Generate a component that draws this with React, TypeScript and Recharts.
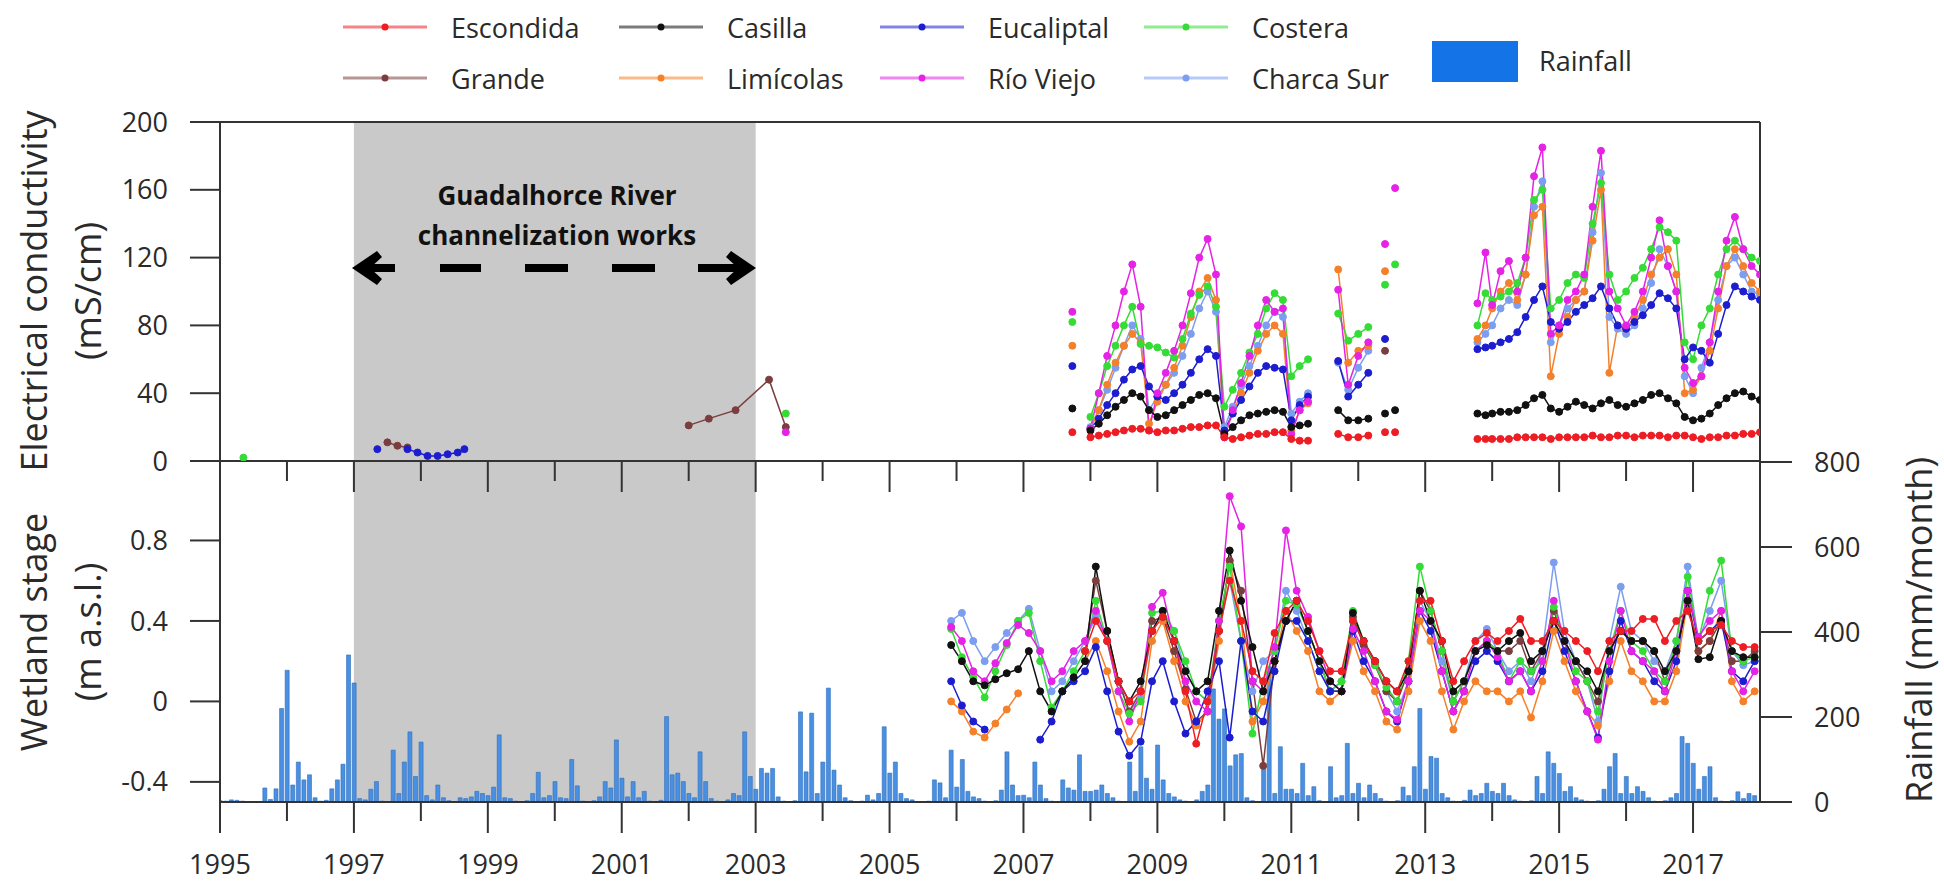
import React from "react";
import {
  Bar,
  ComposedChart,
  Line,
  ReferenceArea,
  ReferenceLine,
  XAxis,
  YAxis,
} from "recharts";

const FONT = "'Open Sans', 'DejaVu Sans', sans-serif";
const W = 1944;
const H = 883;
const AXIS = "#333333";
const TEXT = "#2a2a2a";
const GREY = "#c9c9c9";
const _ = null;

const YEARS = [
  1995, 1996, 1997, 1998, 1999, 2000, 2001, 2002, 2003, 2004, 2005, 2006,
  2007, 2008, 2009, 2010, 2011, 2012, 2013, 2014, 2015, 2016, 2017,
];
const EC_TICKS = [0, 40, 80, 120, 160, 200];
const STAGE_TICKS = [-0.4, 0, 0.4, 0.8];
const RAIN_TICKS = [0, 200, 400, 600, 800];

// monthly rainfall (mm/month), Jan 1995 .. Dec 2017, one row per year
const RAINFALL = [
  3, 2, 5, 4, 2, 0, 0, 1, 33, 6, 31, 220,
  310, 40, 94, 52, 64, 10, 2, 4, 31, 52, 89, 346,
  280, 8, 5, 30, 48, 2, 0, 122, 20, 94, 165, 60,
  141, 15, 5, 40, 10, 3, 0, 10, 8, 12, 25, 20,
  15, 35, 158, 10, 8, 2, 0, 3, 20, 70, 10, 15,
  48, 10, 8, 100, 38, 2, 0, 3, 12, 48, 33, 146,
  56, 12, 48, 10, 25, 2, 0, 4, 201, 64, 68, 48,
  20, 10, 118, 48, 8, 2, 0, 5, 20, 15, 165, 60,
  30, 79, 68, 79, 12, 2, 0, 3, 212, 71, 209, 20,
  94, 268, 75, 40, 10, 3, 0, 2, 16, 5, 20, 177,
  68, 94, 20, 8, 5, 1, 0, 2, 52, 45, 10, 122,
  35, 100, 25, 12, 8, 2, 0, 3, 28, 118, 40, 15,
  16, 10, 94, 40, 8, 2, 0, 52, 33, 28, 111, 25,
  25, 28, 40, 20, 10, 2, 0, 94, 25, 130, 56, 30,
  134, 52, 20, 12, 5, 2, 0, 5, 25, 40, 266, 195,
  219, 85, 111, 114, 10, 3, 0, 91, 318, 20, 130, 30,
  30, 20, 91, 15, 36, 3, 0, 83, 10, 15, 138, 20,
  44, 10, 40, 20, 8, 2, 0, 3, 35, 15, 83, 220,
  30, 107, 103, 20, 10, 2, 0, 4, 28, 15, 20, 44,
  25, 20, 44, 15, 5, 2, 0, 3, 60, 20, 118, 91,
  67, 25, 36, 10, 5, 2, 0, 3, 30, 83, 114, 20,
  60, 20, 36, 25, 10, 2, 0, 3, 10, 20, 154, 138,
  91, 30, 60, 83, 10, 2, 0, 3, 24, 8, 20, 15,
];

// electrical conductivity sampling dates (null rows break the lines)
const EC_T = [
  1995.35,
  1997.35, 1997.5, 1997.65, 1997.8, 1997.95, 1998.1, 1998.25, 1998.4, 1998.55, 1998.65,
  2000.0,
  2002.0, 2002.3, 2002.7, 2003.2, 2003.45,
  2005.5,
  2007.73,
  2007.9,
  2008.0, 2008.125, 2008.25, 2008.375, 2008.5, 2008.625, 2008.75, 2008.875,
  2009.0, 2009.125, 2009.25, 2009.375, 2009.5, 2009.625, 2009.75, 2009.875,
  2010.0, 2010.125, 2010.25, 2010.375, 2010.5, 2010.625, 2010.75, 2010.875,
  2011.0, 2011.125, 2011.25,
  2011.5,
  2011.7, 2011.85, 2012.0, 2012.15,
  2012.3,
  2012.4,
  2012.47,
  2012.55,
  2013.2,
  2013.78, 2013.9, 2014.0,
  2014.125, 2014.25, 2014.375, 2014.5, 2014.625, 2014.75, 2014.875,
  2015.0, 2015.125, 2015.25, 2015.375, 2015.5, 2015.625, 2015.75, 2015.875,
  2016.0, 2016.125, 2016.25, 2016.375, 2016.5, 2016.625, 2016.75, 2016.875,
  2017.0, 2017.125, 2017.25, 2017.375, 2017.5, 2017.625, 2017.75, 2017.875,
  2018.0,
];

const EC_ESCONDIDA = [
  _, _, _, _, _, _, _, _, _, _, _, _, _, _, _, _, _, _, 17, _,
  14, 15, 16, 17, 18, 19, 19, 18,
  17, 18, 18, 19, 20, 20, 21, 21,
  14, 13, 14, 15, 16, 16, 17, 17,
  13, 12, 12,
  _, 16, 14, 14, 15, _, 17, _, 17, _,
  13, 13, 13,
  13, 13, 14, 14, 14, 14, 13,
  14, 14, 14, 14, 15, 14, 14, 15,
  15, 14, 15, 15, 15, 14, 15, 15,
  14, 13, 14, 14, 15, 15, 16, 16,
  17,
];
const EC_CASILLA = [
  _, _, _, _, _, _, _, _, _, _, _, _, _, _, _, _, _, _, 31, _,
  18, 22, 27, 32, 36, 40, 38, 30,
  26, 27, 30, 33, 36, 39, 40, 37,
  16, 20, 24, 27, 28, 29, 30, 29,
  20, 21, 22,
  _, 30, 24, 24, 25, _, 28, _, 30, _,
  28, 27, 28,
  29, 29, 30, 33, 37, 39, 31,
  29, 32, 35, 33, 31, 34, 36, 33,
  32, 34, 36, 39, 40, 37, 34, 26,
  24, 25, 28, 33, 37, 40, 41, 38,
  36,
];
const EC_EUCALIPTAL = [
  _, 7, _, _, 7, 5, 3, 3, 4, 5, 7, _, _, _, _, _, _, _, 56, _,
  19, 25, 33, 40, 48, 54, 56, 44,
  38, 36, 40, 45, 52, 60, 66, 62,
  18, 28, 36, 44, 52, 56, 55, 54,
  24, 33, 38,
  _, 59, 38, 45, 52, _, 72, _, _, _,
  66, 67, 68,
  70, 72, 76, 85, 95, 103, 82,
  78, 82, 88, 92, 96, 103, 90, 80,
  78, 82, 86, 92, 99, 96, 90, 60,
  67, 65, 58, 75, 92, 103, 100, 97,
  95,
];
const EC_RIO_VIEJO = [
  _, _, _, _, _, _, _, _, _, _, _, _, _, _, _, _, 17, _, 88, _,
  19, 40, 62, 80, 100, 116, 91, 18,
  40, 52, 65, 80, 99, 120, 131, 110,
  14, 30, 46, 62, 80, 95, 88, 90,
  16, 30, 35,
  _, 101, 45, 62, 70, _, 128, _, 161, _,
  93, 123, 92,
  112, 118, 100, 120, 168, 185, 75,
  80, 95, 100, 110, 150, 183, 100, 90,
  80, 88, 100, 120, 142, 115, 100, 55,
  46, 50, 70, 100, 130, 144, 125, 115,
  110,
];
const EC_COSTERA = [
  2, _, _, _, _, _, _, _, _, _, _, _, _, _, _, _, 28, _, 82, _,
  26, 40, 56, 68, 80, 91, 69, 68,
  67, 64, 61, 72, 87, 98, 103, 91,
  32, 42, 52, 64, 75, 90, 99, 95,
  50, 56, 60,
  _, 87, 71, 75, 79, _, 104, _, 116, _,
  80, 99, 95,
  97, 100, 105, 120, 154, 160, 90,
  95, 105, 110, 108, 140, 164, 110, 95,
  100, 108, 114, 125, 138, 135, 130, 70,
  60, 80, 90, 110, 125, 130, 125, 120,
  118,
];
const EC_LIMICOLAS = [
  _, _, _, _, _, _, _, _, _, _, _, _, _, _, _, _, _, _, 68, _,
  19, 30, 45, 58, 68, 75, 70, 22,
  35, 45, 55, 68, 85, 100, 108, 95,
  15, 28, 40, 52, 65, 75, 80, 75,
  18, 30, 34,
  _, 113, 58, 65, 68, _, 112, _, _, _,
  72, 80, 90,
  100, 105, 95, 110, 145, 150, 50,
  75, 85, 95, 100, 130, 160, 52, 80,
  78, 85, 95, 110, 120, 125, 110, 40,
  42, 50, 65, 90, 115, 125, 115, 105,
  100,
];
const EC_CHARCA_SUR = [
  _, _, _, _, _, _, _, _, _, _, _, _, _, _, _, _, _, _, _, _,
  20, 30, 42, 55, 68, 80, 72, 30,
  38, 45, 52, 62, 75, 90, 100, 88,
  20, 32, 44, 56, 68, 80, 88, 85,
  28, 35, 40,
  _, 58, 42, 55, 65, _, _, _, _, _,
  70, 75, 80,
  90, 95, 92, 110, 150, 165, 70,
  80, 90, 95, 100, 135, 170, 85, 78,
  75, 80, 90, 105, 125, 115, 100, 50,
  40, 55, 70, 95, 115, 120, 110, 100,
  98,
];
const EC_GRANDE = [
  _, _, 11, 9, 8, _, _, _, _, _, _, _, 21, 25, 30, 48, 20, _, _, _,
  _, _, _, _, _, _, _, _,
  _, _, _, _, _, _, _, _,
  _, _, _, _, _, _, _, _,
  _, _, _,
  _, _, _, _, _, _, 65, _, _, _,
  _, _, _,
  _, _, _, _, _, _, _,
  _, _, _, _, _, _, _, _,
  _, _, _, _, _, _, _, _,
  _, _, _, _, _, _, _, _,
  _,
];

// wetland stage sampling dates (about every two months)
const STAGE_T = [
  2005.92, 2006.08, 2006.25, 2006.42, 2006.58, 2006.75, 2006.92,
  2007.08, 2007.25, 2007.42, 2007.58, 2007.75, 2007.92,
  2008.08, 2008.25, 2008.42, 2008.58, 2008.75, 2008.92,
  2009.08, 2009.25, 2009.42, 2009.58, 2009.75, 2009.92,
  2010.08, 2010.25, 2010.42, 2010.58, 2010.75, 2010.92,
  2011.08, 2011.25, 2011.42, 2011.58, 2011.75, 2011.92,
  2012.08, 2012.25, 2012.42, 2012.58, 2012.75, 2012.92,
  2013.08, 2013.25, 2013.42, 2013.58, 2013.75, 2013.92,
  2014.08, 2014.25, 2014.42, 2014.58, 2014.75, 2014.92,
  2015.08, 2015.25, 2015.42, 2015.58, 2015.75, 2015.92,
  2016.08, 2016.25, 2016.42, 2016.58, 2016.75, 2016.92,
  2017.08, 2017.25, 2017.42, 2017.58, 2017.75, 2017.92,
];

const ST_CHARCA_SUR = [
  0.4, 0.44, 0.3, 0.2, 0.27, 0.34, 0.4,
  0.46, 0.25, 0.05, 0.1, 0.2, 0.3,
  0.42, 0.3, 0.1, -0.05, 0.02, 0.35,
  0.45, 0.35, 0.15, 0.05, 0.0, 0.35,
  0.6, 0.3, 0.05, 0.2, 0.25, 0.55,
  0.45, 0.3, 0.15, 0.05, 0.1, 0.4,
  0.3, 0.2, 0.05, -0.05, 0.1, 0.5,
  0.4, 0.2, 0.0, 0.1, 0.3, 0.36,
  0.25, 0.15, 0.2, 0.1, 0.25, 0.69,
  0.35, 0.2, 0.1, -0.1, 0.3, 0.57,
  0.35, 0.3, 0.2, 0.15, 0.3, 0.67,
  0.3, 0.45, 0.6, 0.25, 0.18, 0.2,
];
const ST_COSTERA = [
  0.36, 0.22, 0.12, 0.02, 0.15, 0.28, 0.4,
  0.44, 0.2, -0.03, 0.05, 0.15, 0.25,
  0.5, 0.3, 0.05, -0.06, 0.0, 0.44,
  0.45, 0.35, 0.2, 0.05, 0.0, 0.4,
  0.67, 0.3, -0.16, 0.1, 0.25, 0.5,
  0.48, 0.35, 0.2, 0.05, 0.1, 0.45,
  0.3, 0.18, 0.07, 0.0, 0.2, 0.67,
  0.45, 0.25, 0.0, 0.1, 0.25, 0.3,
  0.25, 0.1, 0.2, 0.15, 0.2, 0.47,
  0.3, 0.15, 0.1, -0.05, 0.25, 0.45,
  0.3, 0.25, 0.15, 0.1, 0.3, 0.62,
  0.3, 0.55, 0.7, 0.25, 0.2, 0.22,
];
const ST_RIO_VIEJO = [
  0.37, 0.3, 0.15, 0.1, 0.19, 0.29, 0.38,
  0.34, 0.25, 0.1, 0.15, 0.25, 0.3,
  0.45, 0.3, 0.05, -0.1, 0.05, 0.47,
  0.54, 0.3, 0.1, 0.0, -0.05, 0.4,
  1.02, 0.87, 0.1, 0.05, 0.27, 0.85,
  0.55, 0.42, 0.25, 0.1, 0.05, 0.36,
  0.25, 0.1, -0.05, -0.09, 0.1, 0.45,
  0.4, 0.15, -0.05, 0.05, 0.25, 0.3,
  0.22, 0.1, 0.15, 0.05, 0.2, 0.5,
  0.3, 0.1, -0.05, -0.19, 0.2, 0.45,
  0.25, 0.2, 0.15, 0.05, 0.25, 0.55,
  0.32, 0.4, 0.45, 0.15, 0.05, 0.15,
];
const ST_EUCALIPTAL = [
  0.1, -0.02, -0.1, -0.14, _, _, _,
  _, -0.19, -0.1, 0.05, 0.1, 0.15,
  0.27, 0.05, -0.15, -0.27, -0.2, 0.1,
  0.2, 0.0, -0.16, -0.1, 0.05, 0.2,
  -0.18, 0.3, -0.05, -0.1, 0.15, 0.4,
  0.4, 0.3, 0.15, 0.05, 0.05, 0.35,
  0.2, 0.1, -0.05, -0.1, 0.1, 0.45,
  0.35, 0.15, -0.05, 0.05, 0.2, 0.25,
  0.2, 0.1, 0.15, 0.05, 0.15, 0.4,
  0.25, 0.1, -0.05, -0.18, 0.15, 0.4,
  0.25, 0.2, 0.1, 0.05, 0.2, 0.55,
  0.3, 0.35, 0.4, 0.15, 0.1, 0.2,
];
const ST_CASILLA = [
  0.28, 0.2, 0.1, 0.08, 0.11, 0.14, 0.16,
  0.25, 0.05, -0.05, 0.05, 0.12, 0.2,
  0.67, 0.35, 0.1, 0.0, 0.1, 0.35,
  0.45, 0.3, 0.15, 0.05, 0.1, 0.45,
  0.75, 0.5, 0.27, 0.05, 0.2, 0.4,
  0.5, 0.35, 0.2, 0.1, 0.05, 0.44,
  0.3, 0.2, 0.1, 0.05, 0.15, 0.55,
  0.4, 0.3, 0.05, 0.1, 0.25, 0.28,
  0.25, 0.3, 0.34, 0.2, 0.25, 0.4,
  0.3, 0.2, 0.15, 0.05, 0.25, 0.35,
  0.3, 0.3, 0.25, 0.15, 0.25, 0.5,
  0.21, 0.22, 0.4, 0.25, 0.22, 0.22,
];
const ST_ESCONDIDA = [
  _, _, _, _, _, _, _,
  _, _, _, _, _, 0.25,
  0.4, 0.3, 0.1, 0.0, 0.05, 0.35,
  0.42, 0.3, 0.05, -0.21, 0.0, 0.35,
  0.6, 0.4, 0.15, 0.1, 0.34, 0.45,
  0.5, 0.4, 0.25, 0.15, 0.15, 0.4,
  0.3, 0.2, 0.1, 0.05, 0.2, 0.5,
  0.5, 0.3, 0.1, 0.2, 0.3, 0.34,
  0.3, 0.35, 0.41, 0.3, 0.3, 0.4,
  0.35, 0.3, 0.25, 0.15, 0.3, 0.35,
  0.35, 0.41, 0.41, 0.3, 0.4, 0.45,
  0.3, 0.35, 0.38, 0.3, 0.27, 0.27,
];
const ST_LIMICOLAS = [
  0.0, -0.05, -0.15, -0.18, -0.11, -0.04, 0.04,
  _, _, _, _, _, 0.2,
  0.3, 0.15, -0.05, -0.2, -0.1, 0.3,
  0.4, 0.2, 0.0, -0.12, -0.05, 0.3,
  0.7, 0.4, -0.1, 0.0, 0.2, 0.45,
  0.35, 0.25, 0.05, 0.0, 0.05, 0.3,
  0.15, 0.05, -0.1, -0.14, 0.05, 0.4,
  0.3, 0.05, -0.14, 0.0, 0.1, 0.05,
  0.05, 0.0, 0.05, -0.08, 0.1, 0.35,
  0.2, 0.05, -0.05, -0.12, 0.1, 0.3,
  0.15, 0.1, 0.0, 0.0, 0.15, 0.5,
  0.25, 0.3, 0.45, 0.1, 0.0, 0.05,
];
const ST_GRANDE = [
  _, _, _, _, _, _, _,
  _, _, _, _, _, 0.25,
  0.6, 0.35, 0.1, -0.05, 0.05, 0.4,
  0.42, 0.25, 0.06, -0.1, -0.05, 0.35,
  0.7, 0.55, 0.1, -0.32, 0.2, 0.4,
  0.5, 0.35, 0.2, 0.05, 0.05, 0.42,
  0.28, 0.18, 0.05, 0.0, 0.15, 0.55,
  0.45, 0.25, 0.0, 0.1, 0.25, 0.3,
  0.25, 0.25, 0.3, 0.15, 0.25, 0.45,
  0.3, 0.2, 0.1, 0.0, 0.25, 0.35,
  0.3, 0.3, 0.25, 0.1, 0.25, 0.5,
  0.25, 0.3, 0.4, 0.2, 0.2, 0.25,
];

type Site = { key: string; name: string; color: string; ec: (number | null)[]; stage: (number | null)[] };

// drawing order: first is at the back
const SITES: Site[] = [
  { key: "charca", name: "Charca Sur", color: "#7c9ef0", ec: EC_CHARCA_SUR, stage: ST_CHARCA_SUR },
  { key: "limicolas", name: "Limícolas", color: "#f5802a", ec: EC_LIMICOLAS, stage: ST_LIMICOLAS },
  { key: "grande", name: "Grande", color: "#7a3e3e", ec: EC_GRANDE, stage: ST_GRANDE },
  { key: "costera", name: "Costera", color: "#35dc35", ec: EC_COSTERA, stage: ST_COSTERA },
  { key: "eucaliptal", name: "Eucaliptal", color: "#1d1dd0", ec: EC_EUCALIPTAL, stage: ST_EUCALIPTAL },
  { key: "rio", name: "Río Viejo", color: "#e522e5", ec: EC_RIO_VIEJO, stage: ST_RIO_VIEJO },
  { key: "casilla", name: "Casilla", color: "#111111", ec: EC_CASILLA, stage: ST_CASILLA },
  { key: "escondida", name: "Escondida", color: "#ee1d24", ec: EC_ESCONDIDA, stage: ST_ESCONDIDA },
];

const LEGEND_ROWS = [
  ["Escondida", "Casilla", "Eucaliptal", "Costera"],
  ["Grande", "Limícolas", "Río Viejo", "Charca Sur"],
];
const LEGEND_COLS = [343, 619, 880, 1144];
const RAIN_COLOR = "#4a90e2";

const ecRows = EC_T.map((t, i) => {
  const row: Record<string, number | null> = { t };
  SITES.forEach((s) => (row[s.key] = s.ec[i]));
  return row;
});
const stageRows = STAGE_T.map((t, i) => {
  const row: Record<string, number | null> = { t };
  SITES.forEach((s) => (row[s.key] = s.stage[i]));
  return row;
});
const rainRows = RAINFALL.map((rain, i) => ({ t: 1995 + Math.floor(i / 12) + (i % 12) / 12, rain }));

const tickText = { fontSize: 27, fill: TEXT, fontFamily: FONT };

function TopYearTick(props: any) {
  const { x, y, payload } = props;
  const major = payload.value % 2 === 1;
  return <line x1={x} x2={x} y1={y} y2={y + (major ? 31 : 20)} stroke={AXIS} strokeWidth={2} />;
}

function BottomYearTick(props: any) {
  const { x, y, payload } = props;
  const major = payload.value % 2 === 1;
  return (
    <g>
      <line x1={x} x2={x} y1={y} y2={y + (major ? 31 : 19)} stroke={AXIS} strokeWidth={2} />
      {major && (
        <text x={x} y={y + 61} textAnchor="middle" dominantBaseline="central" {...tickText}>
          {payload.value}
        </text>
      )}
    </g>
  );
}

function siteLines(yAxisId: string) {
  return SITES.map((s) => (
    <Line
      key={s.key}
      yAxisId={yAxisId}
      dataKey={s.key}
      type="linear"
      stroke={s.color}
      strokeWidth={1.5}
      dot={{ r: 3.5, fill: s.color, stroke: s.color, strokeWidth: 1 }}
      connectNulls={false}
      isAnimationActive={false}
    />
  ));
}

function Overlay() {
  const colorOf = (name: string) => SITES.find((s) => s.name === name)!.color;
  return (
    <svg width={W} height={H} style={{ position: "absolute", left: 0, top: 0, pointerEvents: "none" }}>
      {LEGEND_ROWS.map((row, r) =>
        row.map((name, c) => {
          const x = LEGEND_COLS[c];
          const y = r === 0 ? 27 : 78;
          const color = colorOf(name);
          return (
            <g key={name}>
              <line x1={x} x2={x + 84} y1={y} y2={y} stroke={color} strokeOpacity={0.55} strokeWidth={3} />
              <circle cx={x + 42} cy={y} r={3.5} fill={color} />
              <text x={x + 108} y={y} dominantBaseline="central" fontSize={27} fill={TEXT} fontFamily={FONT}>
                {name}
              </text>
            </g>
          );
        })
      )}
      <rect x={1432} y={41} width={86} height={41} fill="#1473e6" />
      <text x={1539} y={60} dominantBaseline="central" fontSize={27} fill={TEXT} fontFamily={FONT}>
        Rainfall
      </text>

      <g fontFamily={FONT} fontSize={36} fill={TEXT} textAnchor="middle">
        <text transform="translate(33,291) rotate(-90)" dominantBaseline="central">Electrical conductivity</text>
        <text transform="translate(87,291) rotate(-90)" dominantBaseline="central">(mS/cm)</text>
        <text transform="translate(33,632) rotate(-90)" dominantBaseline="central">Wetland stage</text>
        <text transform="translate(87,632) rotate(-90)" dominantBaseline="central">(m a.s.l.)</text>
        <text transform="translate(1918,630) rotate(-90)" dominantBaseline="central">Rainfall (mm/month)</text>
      </g>

      <g fontFamily={FONT} fontSize={26} fontWeight={700} fill="#111" textAnchor="middle">
        <text x={557} y={195} dominantBaseline="central">Guadalhorce River</text>
        <text x={557} y={235} dominantBaseline="central">channelization works</text>
      </g>
      <g stroke="#000" strokeWidth={8}>
        <line x1={366} x2={395} y1={268} y2={268} />
        <line x1={440} x2={481} y1={268} y2={268} />
        <line x1={525} x2={568} y1={268} y2={268} />
        <line x1={612} x2={655} y1={268} y2={268} />
        <line x1={698} x2={740} y1={268} y2={268} />
      </g>
      <polygon points="352,268 377,251 382,257 370,268 382,279 377,285" fill="#000" />
      <polygon points="756,268 731,251 726,257 738,268 726,279 731,285" fill="#000" />
    </svg>
  );
}

export default function App() {
  return (
    <div style={{ position: "absolute", left: 0, top: 0, width: W, height: H, background: "#fff" }}>
      {/* lower panel frame: axes, shaded period and rainfall bars */}
      <div style={{ position: "absolute", left: 0, top: 0 }}>
        <ComposedChart width={W} height={H} data={rainRows} margin={{ top: 462, right: 84, bottom: 11, left: 120 }}>
          <XAxis
            dataKey="t"
            type="number"
            domain={[1995, 2018]}
            ticks={YEARS}
            interval={0}
            tick={BottomYearTick}
            tickLine={false}
            tickSize={0}
            tickMargin={0}
            axisLine={{ stroke: AXIS, strokeWidth: 2 }}
            height={70}
            allowDataOverflow
          />
          <YAxis
            yAxisId="stage"
            domain={[-0.5, 1.19]}
            ticks={STAGE_TICKS}
            interval={0}
            width={100}
            tickSize={30}
            tickMargin={22}
            tick={tickText}
            tickLine={{ stroke: AXIS, strokeWidth: 2 }}
            axisLine={{ stroke: AXIS, strokeWidth: 2 }}
            allowDataOverflow
          />
          <YAxis
            yAxisId="rain"
            orientation="right"
            domain={[0, 800]}
            ticks={RAIN_TICKS}
            interval={0}
            width={100}
            tickSize={32}
            tickMargin={22}
            tick={tickText}
            tickLine={{ stroke: AXIS, strokeWidth: 2 }}
            axisLine={{ stroke: AXIS, strokeWidth: 2 }}
          />
          <ReferenceArea
            yAxisId="stage"
            x1={1997}
            x2={2003}
            y1={-0.5}
            y2={1.19}
            fill={GREY}
            fillOpacity={1}
            stroke="none"
            ifOverflow="extendDomain"
          />
          <Bar
            yAxisId="rain"
            dataKey="rain"
            fill={RAIN_COLOR}
            stroke="#2e6cba"
            strokeWidth={0.6}
            barSize={4}
            isAnimationActive={false}
          />
        </ComposedChart>
      </div>

      {/* lower panel: wetland stage lines, same plot box with hidden axes */}
      <div style={{ position: "absolute", left: 0, top: 0 }}>
        <ComposedChart width={W} height={H} data={stageRows} margin={{ top: 462, right: 184, bottom: 81, left: 220 }}>
          <XAxis dataKey="t" type="number" domain={[1995, 2018]} hide allowDataOverflow />
          <YAxis yAxisId="stage" domain={[-0.5, 1.19]} hide allowDataOverflow />
          {siteLines("stage")}
        </ComposedChart>
      </div>

      {/* upper panel: electrical conductivity */}
      <div style={{ position: "absolute", left: 0, top: 0 }}>
        <ComposedChart width={W} height={510} data={ecRows} margin={{ top: 122, right: 84, bottom: 9, left: 120 }}>
          <XAxis
            dataKey="t"
            type="number"
            domain={[1995, 2018]}
            ticks={YEARS}
            interval={0}
            tick={TopYearTick}
            tickLine={false}
            tickSize={0}
            tickMargin={0}
            axisLine={{ stroke: AXIS, strokeWidth: 2 }}
            height={40}
            allowDataOverflow
          />
          <YAxis
            yAxisId="ec"
            domain={[0, 200]}
            ticks={EC_TICKS}
            interval={0}
            width={100}
            tickSize={30}
            tickMargin={22}
            tick={tickText}
            tickLine={{ stroke: AXIS, strokeWidth: 2 }}
            axisLine={{ stroke: AXIS, strokeWidth: 2 }}
            allowDataOverflow
          />
          <YAxis
            yAxisId="edge"
            orientation="right"
            domain={[0, 200]}
            width={100}
            tick={false}
            tickLine={false}
            axisLine={{ stroke: AXIS, strokeWidth: 2 }}
          />
          <ReferenceArea
            yAxisId="ec"
            x1={1997}
            x2={2003}
            y1={0}
            y2={200}
            fill={GREY}
            fillOpacity={1}
            stroke="none"
            ifOverflow="extendDomain"
          />
          <ReferenceLine yAxisId="ec" y={200} stroke={AXIS} strokeWidth={2} />
          {siteLines("ec")}
        </ComposedChart>
      </div>

      <Overlay />
    </div>
  );
}
